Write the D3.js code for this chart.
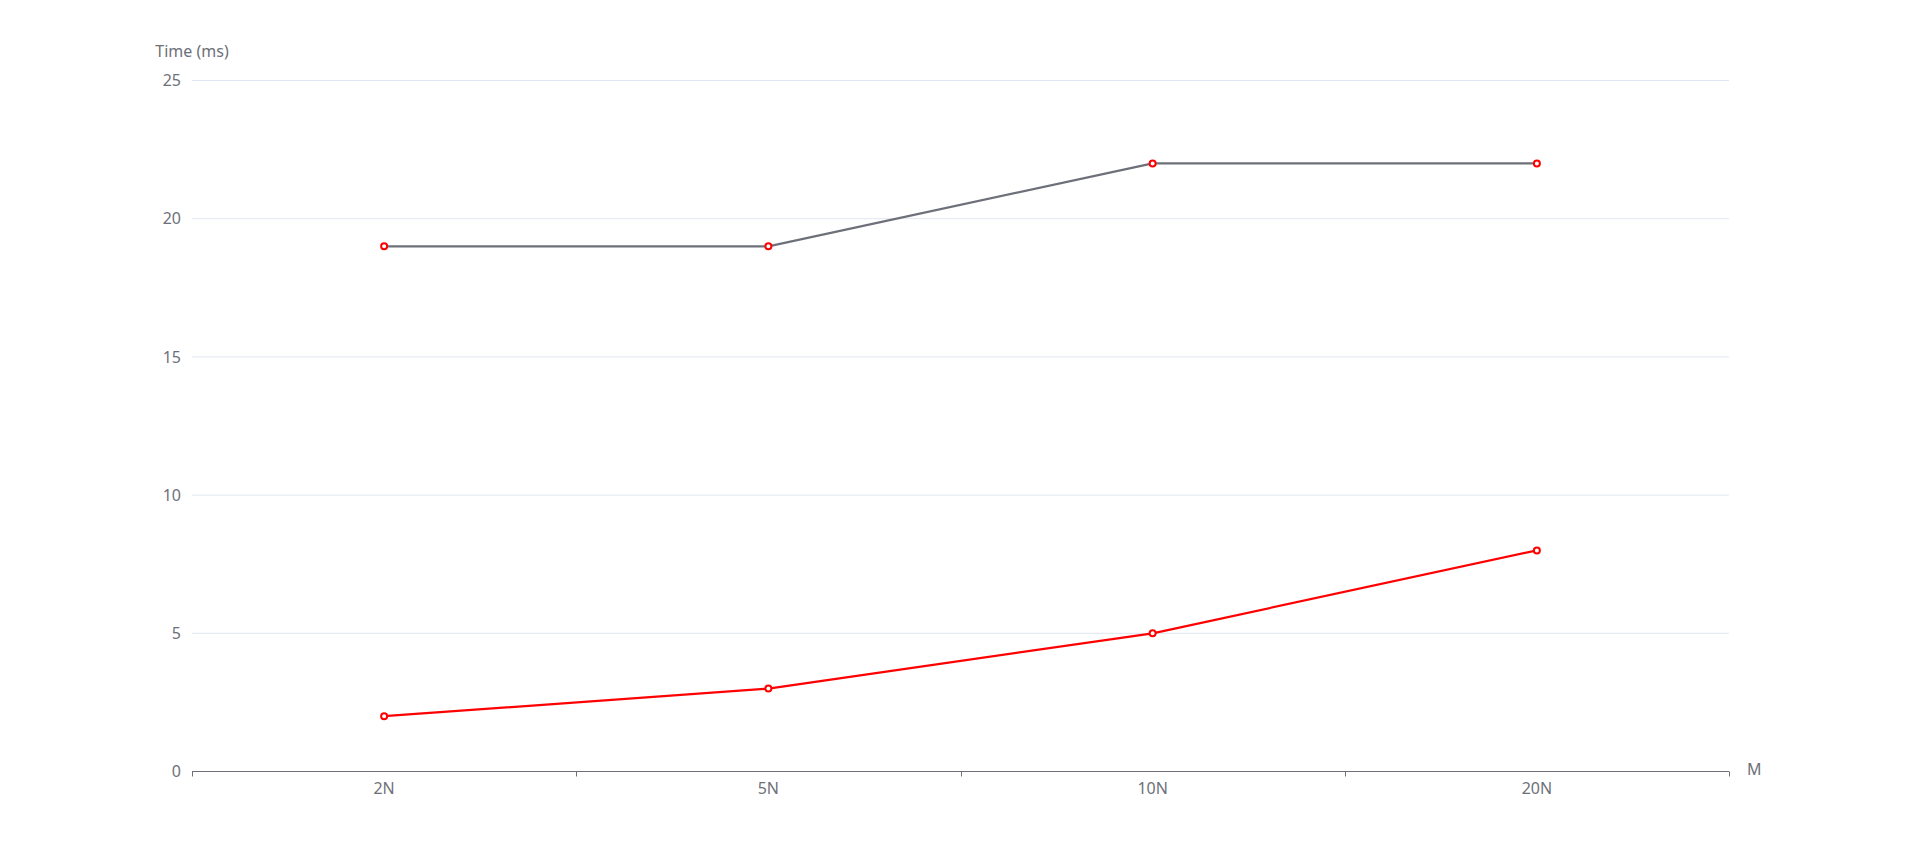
<!DOCTYPE html>
<html><head><meta charset="utf-8">
<script src="https://cdn.jsdelivr.net/npm/d3@7"></script>
<style>html,body{margin:0;padding:0;background:#fff;}svg{display:block;}</style>
</head><body>
<svg id="c" width="1919" height="865"></svg>
<script>
const categories = ["2N", "5N", "10N", "20N"];
const seriesGray = [19, 19, 22, 22];
const seriesRed = [2, 3, 5, 8];
const yTicks = [0, 5, 10, 15, 20, 25];

const W = 1919, H = 865;
const m = {left: 192, right: 190, top: 80.5, bottom: 93.5};
const svg = d3.select("#c");
const font = "'Noto Sans', 'DejaVu Sans', sans-serif";
const textColor = "#6e7079";
const fs = "16px";

const x = d3.scaleBand().domain(categories).range([m.left, W - m.right]);
const y = d3.scaleLinear().domain([0, 25]).range([H - m.bottom, m.top]);

// grid lines
svg.append("g").selectAll("line").data(yTicks.filter(d => d > 0)).join("line")
  .attr("x1", m.left).attr("x2", W - m.right)
  .attr("y1", d => y(d)).attr("y2", d => y(d))
  .attr("stroke", "#e0e6f1").attr("stroke-width", 1);

// y labels
svg.append("g").selectAll("text").data(yTicks).join("text")
  .attr("x", m.left - 11).attr("y", d => y(d)).attr("dy", "0.35em")
  .attr("text-anchor", "end").attr("fill", textColor)
  .style("font-family", font).style("font-size", fs)
  .text(d => d);

// x axis line
svg.append("line").attr("x1", m.left).attr("x2", W - m.right)
  .attr("y1", y(0)).attr("y2", y(0)).attr("stroke", textColor).attr("stroke-width", 1);

// ticks at band boundaries
const bounds = categories.map(c => x(c)).concat([x(categories[categories.length-1]) + x.bandwidth()]);
svg.append("g").selectAll("line").data(bounds).join("line")
  .attr("x1", d => Math.round(d) + 0.5).attr("x2", d => Math.round(d) + 0.5)
  .attr("y1", y(0)).attr("y2", y(0) + 5)
  .attr("stroke", textColor).attr("stroke-width", 1);

// x labels
svg.append("g").selectAll("text").data(categories).join("text")
  .attr("x", d => x(d) + x.bandwidth() / 2).attr("y", y(0) + 17).attr("dy", "0.35em")
  .attr("text-anchor", "middle").attr("fill", textColor)
  .style("font-family", font).style("font-size", fs)
  .text(d => d);

// axis names
svg.append("text").attr("x", m.left).attr("y", y(25) - 29).attr("dy", "0.35em")
  .attr("text-anchor", "middle").attr("fill", textColor)
  .style("font-family", font).style("font-size", fs).text("Time (ms)");
svg.append("text").attr("x", W - m.right + 18).attr("y", y(0) - 2).attr("dy", "0.35em")
  .attr("text-anchor", "start").attr("fill", textColor)
  .style("font-family", font).style("font-size", fs).text("M");

const line = d3.line().x((d, i) => x(categories[i]) + x.bandwidth() / 2).y(d => y(d));

function drawSeries(vals, color) {
  svg.append("path").datum(vals).attr("d", line)
    .attr("fill", "none").attr("stroke", color).attr("stroke-width", 2.2)
    .attr("stroke-linejoin", "bevel");
}
drawSeries(seriesGray, "#6e7079");
drawSeries(seriesRed, "#ff0000");

function drawPoints(vals) {
  svg.append("g").selectAll("circle").data(vals).join("circle")
    .attr("cx", (d, i) => x(categories[i]) + x.bandwidth() / 2)
    .attr("cy", d => y(d)).attr("r", 3)
    .attr("fill", "#fff").attr("stroke", "#ff0000").attr("stroke-width", 2);
}
drawPoints(seriesGray);
drawPoints(seriesRed);
</script>
</body></html>
